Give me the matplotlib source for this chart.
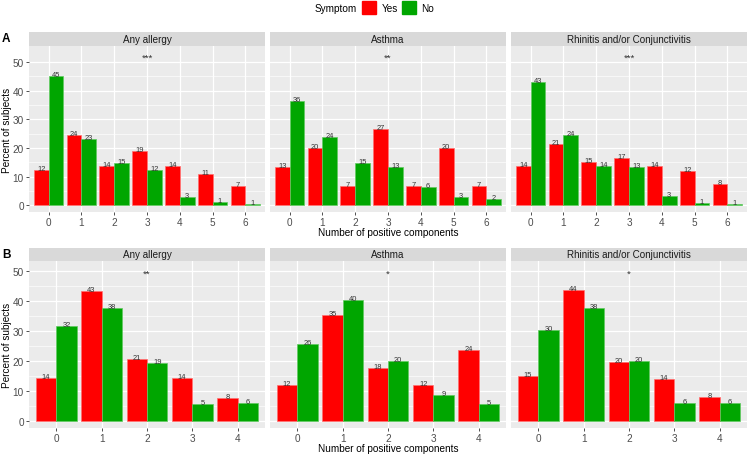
import numpy as np
import matplotlib
matplotlib.use("Agg")
import matplotlib.pyplot as plt
import matplotlib.patches as mpatches

plt.rcParams['font.family'] = ['Liberation Sans', 'DejaVu Sans']

# data
facets = ["Any allergy", "Asthma", "Rhinitis and/or Conjunctivitis"]
cats_a = [0, 1, 2, 3, 4, 5, 6]
cats_b = [0, 1, 2, 3, 4]

yes_a_any = [12.2, 24.4, 13.6, 19.0, 13.6, 10.8, 6.8]
no_a_any = [45.3, 23.3, 14.7, 12.2, 3.0, 1.2, 0.6]
yes_a_asthma = [13.3, 20.0, 6.6, 26.8, 6.6, 20.0, 6.6]
no_a_asthma = [36.5, 23.8, 14.8, 13.4, 6.3, 3.0, 2.2]
yes_a_rhin = [13.6, 21.3, 15.2, 16.7, 13.6, 12.1, 7.6]
no_a_rhin = [43.2, 24.5, 13.9, 13.4, 3.4, 1.0, 0.6]

yes_b_any = [14.2, 43.4, 20.6, 14.2, 7.6]
no_b_any = [31.6, 37.6, 19.2, 5.4, 6.0]
yes_b_asthma = [11.8, 35.3, 17.6, 11.8, 23.6]
no_b_asthma = [25.7, 40.3, 19.9, 8.6, 5.4]
yes_b_rhin = [15.0, 43.8, 19.6, 13.8, 8.0]
no_b_rhin = [30.4, 37.7, 19.9, 5.9, 5.9]

stars_a = ["***", "**", "***"]
stars_b = ["**", "*", "*"]

RED = '#FF0000'
GREEN = '#00A600'
W, H = 749, 456

fig = plt.figure(figsize=(W / 100, H / 100), dpi=100)


def px_axes(x0, y0, x1, y1):
    # pixel box (top-left origin) -> figure axes
    return fig.add_axes([x0 / W, 1 - y1 / H, (x1 - x0) / W, (y1 - y0) / H])


def draw_row(cats, yes_list, no_list, stars, star_x, star_y, strip_top, top, bottom, ylim, letter):
    lefts = [29, 270, 511]
    for i, (left, name) in enumerate(zip(lefts, facets)):
        right = left + 236
        # strip
        sax = px_axes(left, strip_top, right, top)
        sax.set_facecolor('#D9D9D9')
        sax.set_xticks([])
        sax.set_yticks([])
        for s in sax.spines.values():
            s.set_visible(False)
        sax.text(0.5, 0.5, name, ha='center', va='center', fontsize=7.1, color='#1A1A1A',
                 transform=sax.transAxes)

        ax = px_axes(left, top, right, bottom)
        ax.set_facecolor('#EBEBEB')
        for s in ax.spines.values():
            s.set_visible(False)
        x = np.array(cats)
        ax.set_xlim(-0.6, len(cats) - 0.4)
        ax.set_ylim(*ylim)
        ax.set_yticks([0, 10, 20, 30, 40, 50])
        ax.set_yticks([5, 15, 25, 35, 45], minor=True)
        ax.set_xticks(x)
        ax.set_xticklabels([str(c) for c in cats])
        ax.grid(True, which='major', color='white', linewidth=0.9)
        ax.grid(True, which='minor', axis='y', color='white', linewidth=0.45)
        ax.set_axisbelow(True)
        ax.tick_params(axis='x', length=2.2, width=0.6, color='#333333', labelsize=7.2,
                       labelcolor='#4D4D4D', pad=1.5)
        ax.tick_params(axis='y', which='minor', length=0)
        if i == 0:
            ax.tick_params(axis='y', length=2.2, width=0.6, color='#333333', labelsize=7.2,
                           labelcolor='#4D4D4D', pad=1.5)
        else:
            ax.tick_params(axis='y', which='major', length=0, labelleft=False)

        yes = yes_list[i]
        no = no_list[i]
        ax.bar(x - 0.225, yes, width=0.45, color=RED, edgecolor='#FF7070', linewidth=0.5)
        ax.bar(x + 0.225, no, width=0.45, color=GREEN, edgecolor='#60C860', linewidth=0.5)
        for xi, v in zip(x, yes):
            ax.text(xi - 0.225, v, f"{round(v)}", ha='center', va='baseline', fontsize=5.4,
                    color='#333333')
        for xi, v in zip(x, no):
            ax.text(xi + 0.225, v, f"{round(v)}", ha='center', va='baseline', fontsize=5.4,
                    color='#333333')
        ax.text(star_x, star_y, stars[i], ha='center', va='baseline', fontsize=6.8, color='#333333')

    fig.text(6 / W, 1 - (strip_top + 6) / H, letter, ha='center', va='center', fontsize=8.5,
             fontweight='bold')
    fig.text(7 / W, 1 - (top + bottom) / 2 / H, "Percent of subjects", rotation=90,
             ha='center', va='center', fontsize=7.2)
    fig.text(388 / W, 1 - (bottom + 20) / H, "Number of positive components", ha='center',
             va='center', fontsize=7.2)


draw_row(cats_a, [yes_a_any, yes_a_asthma, yes_a_rhin], [no_a_any, no_a_asthma, no_a_rhin],
         stars_a, 3, 50.7, 33, 47, 213, (-2.3, 55.6), "A")
draw_row(cats_b, [yes_b_any, yes_b_asthma, yes_b_rhin], [no_b_any, no_b_asthma, no_b_rhin],
         stars_b, 2, 48.7, 249, 262, 429, (-2.5, 53.5), "B")

# legend at top
fig.text(336 / W, 1 - 9 / H, "Symptom", ha='center', va='center', fontsize=7.2)
fig.patches.append(mpatches.Rectangle((362 / W, 1 - 15 / H), 14 / W, 13 / H, color=RED,
                                      transform=fig.transFigure, figure=fig))
fig.text(382 / W, 1 - 9 / H, "Yes", ha='left', va='center', fontsize=7.2)
fig.patches.append(mpatches.Rectangle((402 / W, 1 - 15 / H), 14 / W, 13 / H, color=GREEN,
                                      transform=fig.transFigure, figure=fig))
fig.text(421 / W, 1 - 9 / H, "No", ha='left', va='center', fontsize=7.2)

fig.savefig("out.png", dpi=100)
